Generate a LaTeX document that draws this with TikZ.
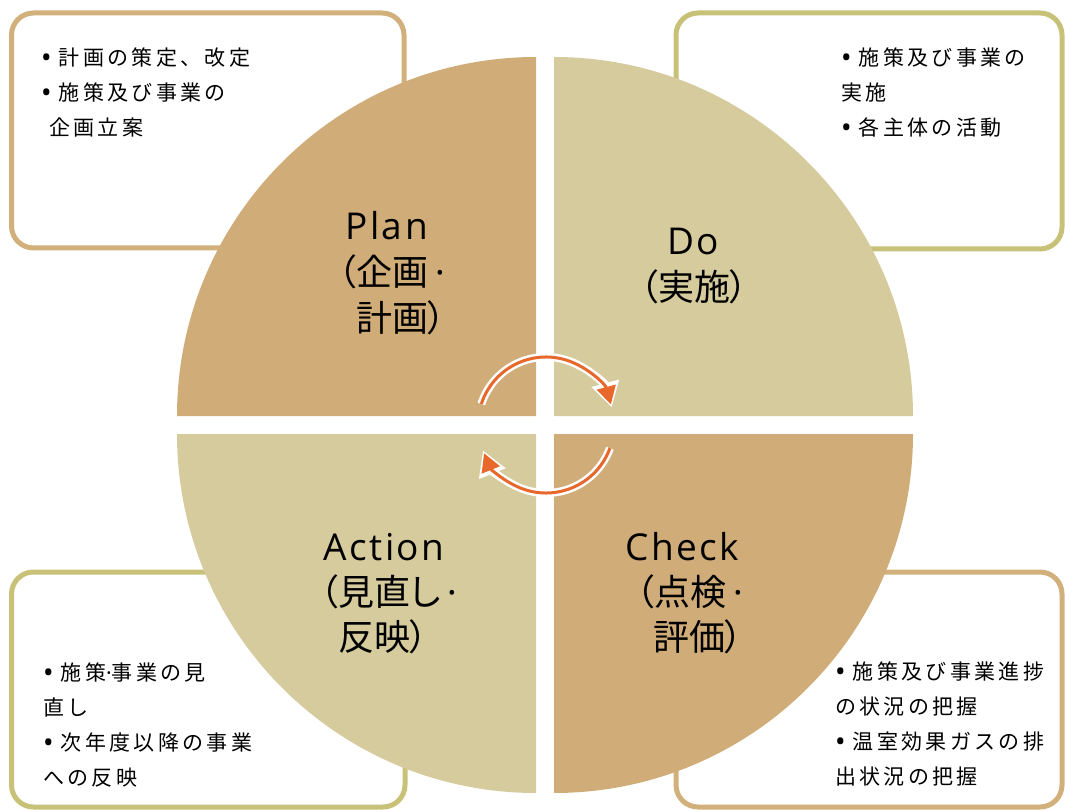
\documentclass[tikz,border=0pt]{standalone}
\usepackage{fontspec}
\setmainfont{Noto Sans CJK JP}
\newfontfamily\boxfont[LetterSpace=16]{Noto Sans CJK JP}
\newfontfamily\bigfont[RawFeature=+palt]{Noto Sans CJK JP}
\newfontfamily\latinbig[LetterSpace=7]{Open Sans}
\newfontfamily\latinsym{Noto Sans}
\usetikzlibrary{arrows.meta}
\definecolor{quadtan}{HTML}{CFAC78}
\definecolor{quadolive}{HTML}{D6CB9D}
\definecolor{edgetan}{HTML}{D2B07C}
\definecolor{edgeolive}{HTML}{C8C278}
\definecolor{cycorange}{HTML}{E8672A}
\newcommand{\bul}{\raisebox{-2pt}{\latinsym\fontsize{28}{35}\selectfont •}\hspace{7pt}}
\newcommand{\mdot}{\hspace{0.2em}{\latinsym ·}}
\tikzset{
  notebox/.style={line width=5pt, rounded corners=22pt, fill=white},
  notetext/.style={anchor=north west, inner sep=0pt, align=left, font=\boxfont\fontsize{21}{35}\selectfont},
  titleline/.style={anchor=base west, inner sep=0pt, font=\latinbig\fontsize{37}{46}\selectfont},
  subline/.style={anchor=base west, inner sep=0pt, font=\bigfont\fontsize{36}{46}\selectfont},
  arrowwhite/.style={white, line width=8pt, -{Triangle[length=25pt,width=27pt]}},
  arroworange/.style={cycorange, line width=3pt, shorten >=3pt, -{Triangle[length=18pt,width=19pt]}}
}
\begin{document}
\begin{tikzpicture}[x=1pt,y=-1pt]
\useasboundingbox (0,0) rectangle (1065,810);
% note boxes (behind the circle)
\draw[notebox, draw=edgetan] (11.5,13) rectangle (404,248);
\draw[notebox, draw=edgeolive] (676,13) rectangle (1062,249);
\draw[notebox, draw=edgeolive] (11.5,572) rectangle (405,807);
\draw[notebox, draw=edgetan] (676,572) rectangle (1062,807);
% quadrants
\fill[quadtan] (536,416) -- (177,416) arc[start angle=180, end angle=270, radius=359] -- cycle;
\fill[quadolive] (554,416) -- (554,57) arc[start angle=270, end angle=360, radius=359] -- cycle;
\fill[quadtan] (554,434) -- (913,434) arc[start angle=0, end angle=90, radius=359] -- cycle;
\fill[quadolive] (536,434) -- (536,793) arc[start angle=90, end angle=180, radius=359] -- cycle;
% quadrant labels
\node[titleline] (plan) at (345,240) {Plan};
\node[subline] (plan2) at (338,285) {（企画\mdot};
\node[subline] (plan3) at (356,331) {計画）};
\node[titleline] (do) at (667,255) {Do};
\node[subline] (do2) at (640,300) {（実施）};
\node[titleline] (action) at (323,560) {Action};
\node[subline] (action2) at (320,605) {（見直し\mdot};
\node[subline] (action3) at (338,650) {反映）};
\node[titleline] (check) at (625,560) {Check};
\node[subline] (check2) at (636,605) {（点検\mdot};
\node[subline] (check3) at (653,650) {評価）};
% note texts
\node[notetext] (plannote) at (41,48) {\bul 計画の策定、改定\\\bul 施策及び事業の\\\hspace{8pt}企画立案};
\node[notetext] (donote) at (841,48) {\bul 施策及び事業の\\実施\\\bul 各主体の活動};
\node[notetext] (actionnote) at (43,663) {\bul 施策{\latinsym ·}事業の見\\直し\\\bul 次年度以降の事業\\への反映};
\node[notetext] (checknote) at (835,662) {\bul 施策及び事業進捗\\の状況の把握\\\bul 温室効果ガスの排\\出状況の把握};
% cycle arrows
\coordinate (hub) at (546,425);
\draw[arrowwhite] ([shift={(-162:68)}]hub) arc[start angle=-162, end angle=-15, radius=68];
\draw[arroworange] ([shift={(-162:68)}]hub) arc[start angle=-162, end angle=-15, radius=68];
\draw[arrowwhite] ([shift={(20:68)}]hub) arc[start angle=20, end angle=158, radius=68];
\draw[arroworange] ([shift={(20:68)}]hub) arc[start angle=20, end angle=158, radius=68];
\end{tikzpicture}
\end{document}
